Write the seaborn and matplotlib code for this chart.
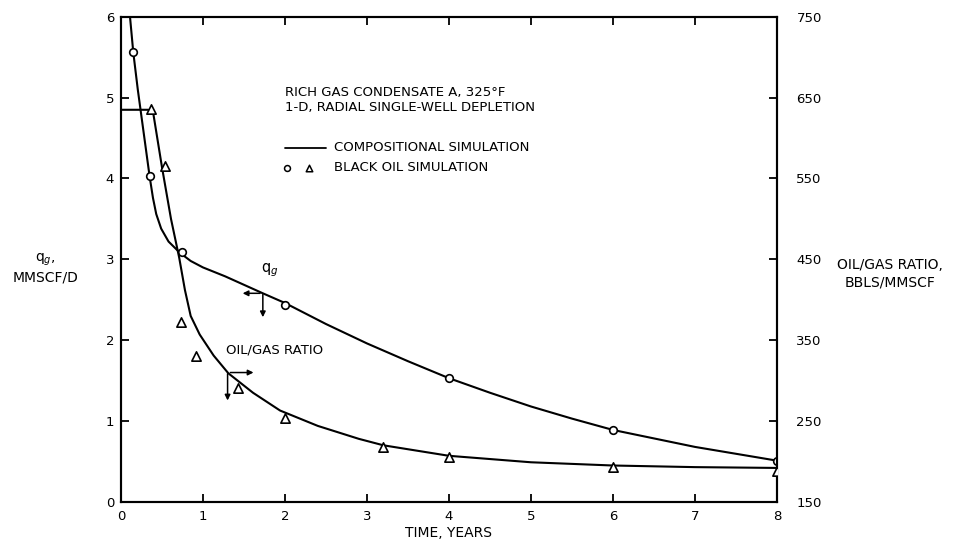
import matplotlib
matplotlib.use("Agg")
import matplotlib.pyplot as plt
import seaborn as sns

# ---- data ----
# Compositional simulation, gas rate q_g (MMSCF/D)
qg_t = [0.11, 0.15, 0.205, 0.35, 0.39, 0.43, 0.49, 0.58, 0.72, 0.85, 1.0, 1.27, 1.73,
        2.0, 2.5, 3.0, 3.5, 4.0, 4.5, 5.0, 5.5, 6.0, 7.0, 8.0]
qg_val = [6.0, 5.56, 5.10, 4.02, 3.76, 3.56, 3.38, 3.22, 3.08, 2.98, 2.90, 2.79, 2.58,
          2.46, 2.2, 1.96, 1.74, 1.53, 1.35, 1.18, 1.03, 0.89, 0.68, 0.51]
# Compositional simulation, oil/gas ratio (BBLS/MMSCF)
ogr_t = [0.0, 0.33, 0.39, 0.50, 0.61, 0.71, 0.78, 0.85, 0.96, 1.13, 1.31, 1.61, 1.94,
         2.4, 2.9, 3.2, 4.0, 5.0, 6.0, 7.0, 8.0]
ogr_val = [635, 635, 633, 564, 500, 452, 412, 380, 357, 331, 309, 285, 263,
           244, 228, 220, 207, 199, 195, 193, 192]
# Black oil simulation points
bo_qg_t = [0.15, 0.35, 0.74, 2.0, 4.0, 6.0, 8.0]
bo_qg_val = [5.56, 4.03, 3.09, 2.44, 1.53, 0.89, 0.51]
bo_ogr_t = [0.37, 0.54, 0.73, 0.91, 1.43, 2.0, 3.2, 4.0, 6.0, 8.0]
bo_ogr_val = [636, 566, 372, 331, 291, 254, 218, 206, 193, 188]

x_ticks = [0, 1, 2, 3, 4, 5, 6, 7, 8]
left_ticks = [0, 1, 2, 3, 4, 5, 6]
right_ticks = [150, 250, 350, 450, 550, 650, 750]

sns.set_style("ticks")
plt.rcParams["font.family"] = ["DejaVu Sans"]
plt.rcParams["text.color"] = "black"
plt.rcParams["xtick.color"] = "black"
plt.rcParams["ytick.color"] = "black"
plt.rcParams["axes.labelcolor"] = "black"

fig = plt.figure(figsize=(9.64, 5.42), dpi=100)
ax = fig.add_axes([0.1255, 0.074, 0.6805, 0.895])
ax2 = ax.twinx()

lw = 1.5
sns.lineplot(x=qg_t, y=qg_val, ax=ax, color="black", lw=lw, sort=False)
sns.lineplot(x=ogr_t, y=ogr_val, ax=ax2, color="black", lw=lw, sort=False)
sns.scatterplot(x=bo_qg_t, y=bo_qg_val, ax=ax, marker="o", s=30,
                facecolor="white", edgecolor="black", linewidth=1.2, zorder=5)
sns.scatterplot(x=bo_ogr_t, y=bo_ogr_val, ax=ax2, marker="^", s=45,
                facecolor="white", edgecolor="black", linewidth=1.2, zorder=5)

ax.set_xlim(0, 8)
ax.set_ylim(0, 6)
ax2.set_ylim(150, 750)
ax.set_xticks(x_ticks)
ax.set_yticks(left_ticks)
ax2.set_yticks(right_ticks)
ax.set_xticklabels([str(v) for v in x_ticks])

fs = 9.5
for spine in list(ax.spines.values()) + list(ax2.spines.values()):
    spine.set_linewidth(1.5)
    spine.set_color("black")
    spine.set_visible(True)
ax.tick_params(axis="x", direction="in", length=6, width=1.3, top=True,
               labelsize=fs, pad=6)
ax.tick_params(axis="y", direction="in", length=6, width=1.3,
               labelsize=fs, pad=5)
ax2.tick_params(axis="y", direction="in", length=6, width=1.3,
                labelsize=fs, pad=14)

ax.set_xlabel("TIME, YEARS", fontsize=fs + 0.5, labelpad=2)
ax.set_ylabel("")
ax2.set_ylabel("")
fig.text(0.047, 0.505, "q$_g$,\nMMSCF/D", ha="center", va="center",
         fontsize=fs + 0.5, linespacing=1.2)
fig.text(0.923, 0.495, "OIL/GAS RATIO,\nBBLS/MMSCF", ha="center", va="center",
         fontsize=fs + 0.5, linespacing=1.3)

# annotation block
tfs = 9.5
ax.text(2.0, 5.06, "RICH GAS CONDENSATE A, 325°F", fontsize=tfs, va="center")
ax.text(2.0, 4.88, "1-D, RADIAL SINGLE-WELL DEPLETION", fontsize=tfs, va="center")
ax.plot([2.0, 2.5], [4.38, 4.38], color="black", lw=1.3)
ax.text(2.6, 4.38, "COMPOSITIONAL SIMULATION", fontsize=tfs, va="center")
ax.scatter([2.03], [4.13], marker="o", s=18, facecolor="white",
           edgecolor="black", linewidth=1.1)
ax.scatter([2.29], [4.13], marker="^", s=22, facecolor="white",
           edgecolor="black", linewidth=1.1)
ax.text(2.6, 4.13, "BLACK OIL SIMULATION", fontsize=tfs, va="center")

# curve labels and arrows
ax.text(1.82, 2.87, "q$_g$", fontsize=tfs + 1, ha="center", va="center")
ax.text(1.28, 1.88, "OIL/GAS RATIO", fontsize=tfs, ha="left", va="center")
arr = dict(arrowstyle="-|>", color="black", lw=1.1, mutation_scale=8)
ax.annotate("", xy=(1.45, 2.58), xytext=(1.73, 2.58), arrowprops=arr)
ax.annotate("", xy=(1.73, 2.25), xytext=(1.73, 2.60), arrowprops=arr)
ax.annotate("", xy=(1.65, 1.60), xytext=(1.30, 1.60), arrowprops=arr)
ax.annotate("", xy=(1.30, 1.22), xytext=(1.30, 1.62), arrowprops=arr)

fig.savefig("out.png", dpi=100, facecolor="white")
